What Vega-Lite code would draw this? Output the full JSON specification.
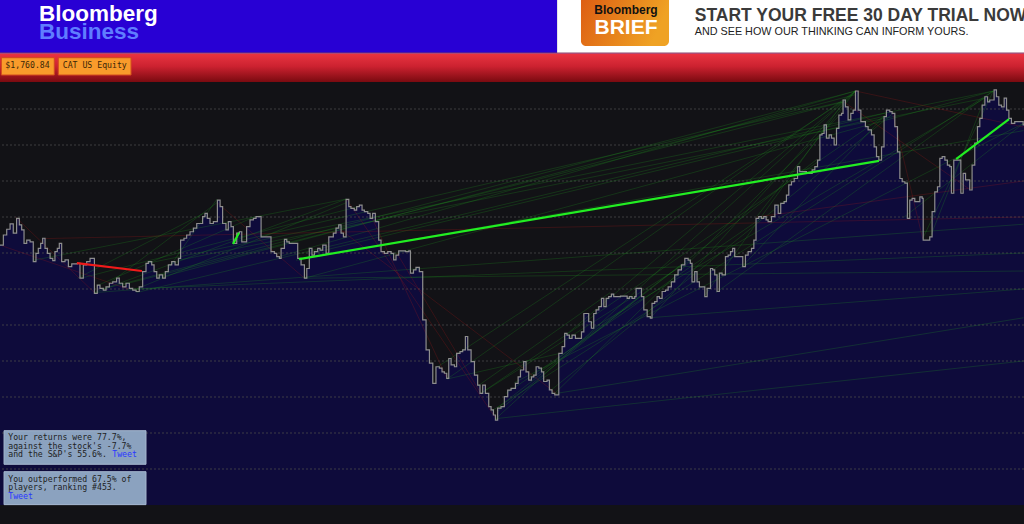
{
"$schema": "https://vega.github.io/schema/vega-lite/v6.json",
"width": 1024, "height": 505,
"autosize": {"type": "none"},
"padding": {"left": 0, "top": 0, "right": 0, "bottom": 19},
"background": "#121216",
"config": {"view": {"stroke": null}},
"datasets": {
"price": [
{"t":2006.238,"p":72.2},{"t":2006.258,"p":75.0},{"t":2006.278,"p":76.6},{"t":2006.298,"p":78.1},{"t":2006.317,"p":75.5},{"t":2006.337,"p":79.6},{"t":2006.353,"p":77.8},{"t":2006.367,"p":76.4},{"t":2006.381,"p":72.7},{"t":2006.397,"p":73.6},{"t":2006.417,"p":73.1},{"t":2006.436,"p":67.6},{"t":2006.452,"p":69.9},{"t":2006.466,"p":71.3},{"t":2006.480,"p":72.7},{"t":2006.492,"p":74.1},{"t":2006.506,"p":71.3},{"t":2006.520,"p":69.9},{"t":2006.536,"p":68.5},{"t":2006.552,"p":67.9},{"t":2006.565,"p":70.4},{"t":2006.579,"p":71.3},{"t":2006.591,"p":72.7},{"t":2006.605,"p":67.6},{"t":2006.625,"p":68.1},{"t":2006.645,"p":66.2},{"t":2006.665,"p":67.0},{"t":2006.698,"p":67.1},{"t":2006.714,"p":63.0},{"t":2006.734,"p":66.7},{"t":2006.754,"p":67.6},{"t":2006.774,"p":68.5},{"t":2006.800,"p":58.8},{"t":2006.817,"p":61.1},{"t":2006.833,"p":60.2},{"t":2006.853,"p":59.7},{"t":2006.869,"p":60.6},{"t":2006.889,"p":61.6},{"t":2006.909,"p":62.0},{"t":2006.932,"p":63.0},{"t":2006.948,"p":61.6},{"t":2006.968,"p":60.6},{"t":2006.988,"p":61.6},{"t":2007.008,"p":60.2},{"t":2007.028,"p":59.7},{"t":2007.048,"p":59.3},{"t":2007.067,"p":60.6},{"t":2007.087,"p":64.8},{"t":2007.107,"p":67.1},{"t":2007.121,"p":67.6},{"t":2007.141,"p":66.7},{"t":2007.155,"p":64.8},{"t":2007.171,"p":63.0},{"t":2007.186,"p":63.9},{"t":2007.206,"p":63.0},{"t":2007.222,"p":64.8},{"t":2007.240,"p":66.7},{"t":2007.260,"p":67.6},{"t":2007.280,"p":66.7},{"t":2007.300,"p":68.5},{"t":2007.313,"p":73.6},{"t":2007.333,"p":74.1},{"t":2007.349,"p":75.0},{"t":2007.369,"p":75.9},{"t":2007.389,"p":76.9},{"t":2007.409,"p":78.2},{"t":2007.444,"p":80.1},{"t":2007.458,"p":81.0},{"t":2007.472,"p":79.6},{"t":2007.488,"p":78.2},{"t":2007.508,"p":78.7},{"t":2007.532,"p":84.7},{"t":2007.548,"p":82.9},{"t":2007.563,"p":78.2},{"t":2007.583,"p":76.4},{"t":2007.597,"p":78.7},{"t":2007.613,"p":77.3},{"t":2007.627,"p":72.7},{"t":2007.647,"p":75.5},{"t":2007.663,"p":75.9},{"t":2007.677,"p":73.1},{"t":2007.706,"p":77.3},{"t":2007.726,"p":79.2},{"t":2007.746,"p":79.6},
{"t":2007.762,"p":80.1},{"t":2007.792,"p":74.5},{"t":2007.851,"p":70.4},{"t":2007.871,"p":69.9},{"t":2007.885,"p":69.0},{"t":2007.901,"p":68.5},{"t":2007.911,"p":71.3},{"t":2007.931,"p":73.8},{"t":2007.945,"p":73.1},{"t":2007.960,"p":72.7},{"t":2008.010,"p":68.5},{"t":2008.030,"p":66.7},{"t":2008.050,"p":63.0},{"t":2008.064,"p":65.7},{"t":2008.079,"p":71.3},{"t":2008.095,"p":69.4},{"t":2008.109,"p":70.4},{"t":2008.129,"p":71.3},{"t":2008.143,"p":70.8},{"t":2008.159,"p":72.2},{"t":2008.179,"p":69.9},{"t":2008.195,"p":74.5},{"t":2008.222,"p":75.5},{"t":2008.238,"p":76.9},{"t":2008.254,"p":77.8},{"t":2008.268,"p":75.5},{"t":2008.282,"p":74.5},{"t":2008.298,"p":84.9},{"t":2008.314,"p":82.9},{"t":2008.327,"p":82.4},{"t":2008.347,"p":81.9},{"t":2008.361,"p":82.9},{"t":2008.377,"p":83.3},{"t":2008.393,"p":81.9},{"t":2008.407,"p":81.5},{"t":2008.427,"p":81.0},{"t":2008.441,"p":79.6},{"t":2008.456,"p":81.0},{"t":2008.472,"p":78.7},{"t":2008.492,"p":73.6},{"t":2008.506,"p":70.4},{"t":2008.526,"p":69.9},{"t":2008.546,"p":70.4},{"t":2008.566,"p":69.9},{"t":2008.581,"p":68.1},{"t":2008.595,"p":69.4},{"t":2008.611,"p":70.6},{"t":2008.651,"p":70.4},{"t":2008.671,"p":70.6},{"t":2008.681,"p":64.4},{"t":2008.699,"p":65.3},{"t":2008.714,"p":66.0},{"t":2008.734,"p":64.8},{"t":2008.754,"p":51.4},{"t":2008.774,"p":43.1},{"t":2008.794,"p":39.4},{"t":2008.814,"p":33.8},{"t":2008.833,"p":38.4},{"t":2008.853,"p":38.0},{"t":2008.869,"p":37.0},{"t":2008.883,"p":36.6},{"t":2008.897,"p":35.2},{"t":2008.909,"p":40.7},{"t":2008.923,"p":38.9},{"t":2008.943,"p":38.4},{"t":2008.956,"p":42.1},{"t":2008.976,"p":42.6},{"t":2008.992,"p":43.1},{"t":2009.008,"p":46.8},{"t":2009.022,"p":43.1},{"t":2009.042,"p":39.8},{"t":2009.062,"p":36.1},{"t":2009.081,"p":33.3},{"t":2009.095,"p":31.0},{"t":2009.111,"p":33.3},{"t":2009.127,"p":31.0},{"t":2009.147,"p":27.3},{"t":2009.161,"p":26.4},{"t":2009.175,"p":25.0},{"t":2009.187,"p":23.6},{"t":2009.200,"p":26.9},{"t":2009.220,"p":27.3},{"t":2009.240,"p":30.1},{"t":2009.260,"p":31.9},{"t":2009.280,"p":32.4},
{"t":2009.286,"p":32.4},{"t":2009.306,"p":33.8},{"t":2009.322,"p":35.6},{"t":2009.336,"p":37.5},{"t":2009.355,"p":39.8},{"t":2009.369,"p":37.0},{"t":2009.385,"p":34.7},{"t":2009.401,"p":35.6},{"t":2009.415,"p":36.1},{"t":2009.429,"p":38.4},{"t":2009.445,"p":38.0},{"t":2009.461,"p":37.0},{"t":2009.474,"p":34.3},{"t":2009.494,"p":34.7},{"t":2009.508,"p":32.0},{"t":2009.524,"p":31.0},{"t":2009.540,"p":30.6},{"t":2009.564,"p":42.1},{"t":2009.584,"p":44.0},{"t":2009.599,"p":47.7},{"t":2009.613,"p":47.2},{"t":2009.627,"p":46.3},{"t":2009.643,"p":47.2},{"t":2009.663,"p":46.3},{"t":2009.699,"p":48.1},{"t":2009.713,"p":53.2},{"t":2009.742,"p":50.9},{"t":2009.758,"p":49.1},{"t":2009.772,"p":53.2},{"t":2009.786,"p":54.2},{"t":2009.802,"p":55.1},{"t":2009.818,"p":57.4},{"t":2009.832,"p":55.1},{"t":2009.846,"p":57.4},{"t":2009.861,"p":57.9},{"t":2009.877,"p":58.6},{"t":2009.891,"p":57.9},{"t":2009.931,"p":58.0},{"t":2009.971,"p":57.4},{"t":2009.984,"p":57.9},{"t":2010.000,"p":57.4},{"t":2010.016,"p":57.9},{"t":2010.024,"p":60.2},{"t":2010.056,"p":57.9},{"t":2010.070,"p":54.2},{"t":2010.090,"p":52.3},{"t":2010.109,"p":51.9},{"t":2010.119,"p":56.0},{"t":2010.135,"p":56.5},{"t":2010.149,"p":57.9},{"t":2010.163,"p":57.4},{"t":2010.179,"p":59.3},{"t":2010.199,"p":59.7},{"t":2010.215,"p":60.6},{"t":2010.234,"p":62.0},{"t":2010.254,"p":63.9},{"t":2010.274,"p":65.3},{"t":2010.294,"p":66.7},{"t":2010.314,"p":68.5},{"t":2010.334,"p":68.0},{"t":2010.347,"p":67.1},{"t":2010.357,"p":62.0},{"t":2010.373,"p":64.8},{"t":2010.387,"p":62.0},{"t":2010.401,"p":60.6},{"t":2010.433,"p":57.9},{"t":2010.447,"p":60.2},{"t":2010.467,"p":65.7},{"t":2010.480,"p":65.3},{"t":2010.492,"p":63.9},{"t":2010.506,"p":59.3},{"t":2010.520,"p":64.4},{"t":2010.536,"p":63.9},{"t":2010.556,"p":69.0},{"t":2010.572,"p":69.4},{"t":2010.586,"p":70.4},{"t":2010.599,"p":71.3},{"t":2010.611,"p":69.0},{"t":2010.659,"p":66.2},{"t":2010.675,"p":69.4},{"t":2010.691,"p":70.4},{"t":2010.711,"p":71.3},{"t":2010.725,"p":73.6},{"t":2010.738,"p":79.6},{"t":2010.754,"p":80.1},{"t":2010.770,"p":79.6},{"t":2010.784,"p":80.1},{"t":2010.798,"p":79.2},
{"t":2010.810,"p":78.7},{"t":2010.830,"p":80.1},{"t":2010.850,"p":83.3},{"t":2010.870,"p":81.0},{"t":2010.885,"p":83.8},{"t":2010.905,"p":84.3},{"t":2010.919,"p":86.1},{"t":2010.933,"p":88.9},{"t":2010.949,"p":89.8},{"t":2010.965,"p":90.7},{"t":2010.985,"p":94.0},{"t":2010.998,"p":92.6},{"t":2011.038,"p":92.1},{"t":2011.072,"p":93.1},{"t":2011.088,"p":94.0},{"t":2011.104,"p":95.8},{"t":2011.118,"p":102.8},{"t":2011.131,"p":103.2},{"t":2011.143,"p":105.6},{"t":2011.157,"p":101.9},{"t":2011.173,"p":102.8},{"t":2011.187,"p":101.9},{"t":2011.203,"p":100.0},{"t":2011.217,"p":104.6},{"t":2011.231,"p":108.3},{"t":2011.247,"p":108.8},{"t":2011.256,"p":112.5},{"t":2011.270,"p":110.6},{"t":2011.286,"p":107.0},{"t":2011.302,"p":108.8},{"t":2011.316,"p":109.7},{"t":2011.330,"p":115.0},{"t":2011.346,"p":109.7},{"t":2011.362,"p":106.5},{"t":2011.389,"p":105.1},{"t":2011.405,"p":104.2},{"t":2011.425,"p":102.8},{"t":2011.441,"p":99.5},{"t":2011.455,"p":96.8},{"t":2011.469,"p":95.8},{"t":2011.485,"p":99.5},{"t":2011.500,"p":107.9},{"t":2011.514,"p":109.7},{"t":2011.534,"p":109.3},{"t":2011.548,"p":108.8},{"t":2011.564,"p":105.1},{"t":2011.580,"p":98.1},{"t":2011.594,"p":90.7},{"t":2011.608,"p":89.8},{"t":2011.624,"p":89.4},{"t":2011.639,"p":79.6},{"t":2011.653,"p":84.7},{"t":2011.667,"p":85.2},{"t":2011.683,"p":84.3},{"t":2011.713,"p":85.6},{"t":2011.727,"p":85.2},{"t":2011.733,"p":73.6},{"t":2011.772,"p":74.5},{"t":2011.786,"p":81.5},{"t":2011.802,"p":87.0},{"t":2011.818,"p":88.4},{"t":2011.832,"p":96.3},{"t":2011.846,"p":96.8},{"t":2011.862,"p":95.8},{"t":2011.877,"p":94.4},{"t":2011.891,"p":94.0},{"t":2011.901,"p":86.6},{"t":2011.915,"p":95.8},{"t":2011.957,"p":86.6},{"t":2011.971,"p":92.1},{"t":2011.985,"p":90.3},{"t":2012.010,"p":87.5},{"t":2012.024,"p":94.4},{"t":2012.040,"p":100.5},{"t":2012.056,"p":105.1},{"t":2012.070,"p":107.4},{"t":2012.084,"p":111.1},{"t":2012.100,"p":113.4},{"t":2012.116,"p":112.0},{"t":2012.129,"p":112.5},{"t":2012.155,"p":115.3},{"t":2012.169,"p":113.4},{"t":2012.183,"p":111.1},{"t":2012.199,"p":110.6},{"t":2012.215,"p":113.0},{"t":2012.229,"p":109.7},{"t":2012.243,"p":107.4},{"t":2012.258,"p":106.0},{"t":2012.278,"p":106.5},{"t":2012.314,"p":106.5},{"t":2012.328,"p":105.6},{"t":2012.333,"p":105.6}
],
"others": [
{"t":2006.80,"p":59,"t2":2008.30,"p2":85,"result":"gain"},
{"t":2006.85,"p":60,"t2":2011.33,"p2":115,"result":"gain"},
{"t":2006.95,"p":61,"t2":2011.26,"p2":112,"result":"gain"},
{"t":2007.05,"p":59,"t2":2011.52,"p2":109,"result":"gain"},
{"t":2007.10,"p":67,"t2":2012.15,"p2":115,"result":"gain"},
{"t":2007.17,"p":63,"t2":2011.33,"p2":114,"result":"gain"},
{"t":2007.30,"p":68,"t2":2012.10,"p2":113,"result":"gain"},
{"t":2006.90,"p":62,"t2":2007.53,"p2":84,"result":"gain"},
{"t":2006.82,"p":61,"t2":2007.75,"p2":80,"result":"gain"},
{"t":2007.63,"p":73,"t2":2011.25,"p2":112,"result":"gain"},
{"t":2007.90,"p":69,"t2":2011.33,"p2":115,"result":"gain"},
{"t":2008.05,"p":63,"t2":2012.15,"p2":115,"result":"gain"},
{"t":2008.10,"p":70,"t2":2011.50,"p2":108,"result":"gain"},
{"t":2008.00,"p":68,"t2":2012.33,"p2":104,"result":"gain"},
{"t":2008.90,"p":35,"t2":2011.33,"p2":115,"result":"gain"},
{"t":2008.83,"p":38,"t2":2011.25,"p2":112,"result":"gain"},
{"t":2009.10,"p":31,"t2":2011.50,"p2":108,"result":"gain"},
{"t":2009.19,"p":24,"t2":2011.33,"p2":115,"result":"gain"},
{"t":2009.16,"p":26,"t2":2012.15,"p2":115,"result":"gain"},
{"t":2009.20,"p":27,"t2":2011.10,"p2":96,"result":"gain"},
{"t":2009.25,"p":31,"t2":2010.78,"p2":80,"result":"gain"},
{"t":2009.30,"p":34,"t2":2012.33,"p2":106,"result":"gain"},
{"t":2009.54,"p":31,"t2":2011.23,"p2":108,"result":"gain"},
{"t":2009.52,"p":32,"t2":2011.56,"p2":109,"result":"gain"},
{"t":2009.40,"p":35,"t2":2010.30,"p2":67,"result":"gain"},
{"t":2009.60,"p":47,"t2":2011.33,"p2":115,"result":"gain"},
{"t":2009.76,"p":49,"t2":2012.10,"p2":113,"result":"gain"},
{"t":2010.11,"p":52,"t2":2011.33,"p2":115,"result":"gain"},
{"t":2010.43,"p":58,"t2":2011.26,"p2":112,"result":"gain"},
{"t":2010.50,"p":59,"t2":2012.15,"p2":115,"result":"gain"},
{"t":2010.65,"p":66,"t2":2011.52,"p2":109,"result":"gain"},
{"t":2006.44,"p":68,"t2":2008.30,"p2":85,"result":"gain"},
{"t":2006.72,"p":63,"t2":2008.38,"p2":83,"result":"gain"},
{"t":2007.05,"p":60,"t2":2008.30,"p2":84,"result":"gain"},
{"t":2006.80,"p":59,"t2":2012.33,"p2":78,"result":"gain"},
{"t":2007.00,"p":60,"t2":2012.33,"p2":70,"result":"gain"},
{"t":2008.05,"p":63,"t2":2012.33,"p2":65,"result":"gain"},
{"t":2009.19,"p":24,"t2":2012.33,"p2":40,"result":"gain"},
{"t":2009.55,"p":31,"t2":2012.33,"p2":52,"result":"gain"},
{"t":2010.10,"p":52,"t2":2012.33,"p2":60,"result":"gain"},
{"t":2009.08,"p":33,"t2":2009.87,"p2":59,"result":"gain"},
{"t":2008.90,"p":35,"t2":2009.56,"p2":42,"result":"gain"},
{"t":2007.20,"p":63,"t2":2007.53,"p2":85,"result":"gain"},
{"t":2006.70,"p":63,"t2":2007.45,"p2":81,"result":"gain"},
{"t":2009.20,"p":26,"t2":2010.05,"p2":58,"result":"gain"},
{"t":2009.10,"p":31,"t2":2010.35,"p2":68,"result":"gain"},
{"t":2011.73,"p":74,"t2":2012.15,"p2":115,"result":"gain"},
{"t":2011.78,"p":75,"t2":2012.10,"p2":113,"result":"gain"},
{"t":2011.62,"p":80,"t2":2012.33,"p2":106,"result":"gain"},
{"t":2010.74,"p":80,"t2":2011.33,"p2":115,"result":"gain"},
{"t":2008.30,"p":85,"t2":2009.19,"p2":24,"result":"loss"},
{"t":2008.45,"p":80,"t2":2008.90,"p2":35,"result":"loss"},
{"t":2008.25,"p":77,"t2":2009.55,"p2":31,"result":"loss"},
{"t":2008.60,"p":70,"t2":2009.10,"p2":31,"result":"loss"},
{"t":2011.33,"p":115,"t2":2012.33,"p2":105,"result":"loss"},
{"t":2011.55,"p":109,"t2":2011.73,"p2":74,"result":"loss"},
{"t":2011.26,"p":112,"t2":2012.00,"p2":88,"result":"loss"},
{"t":2006.33,"p":80,"t2":2006.80,"p2":59,"result":"loss"},
{"t":2006.25,"p":72,"t2":2007.00,"p2":60,"result":"loss"},
{"t":2007.53,"p":84,"t2":2008.05,"p2":63,"result":"loss"},
{"t":2006.50,"p":74,"t2":2012.33,"p2":80,"result":"loss"},
{"t":2010.74,"p":80,"t2":2012.33,"p2":90,"result":"loss"}
],
"yours": [
{"t":2006.696,"p":67.2,"t2":2007.083,"p2":65.0,"result":"loss"},
{"t":2007.625,"p":72.5,"t2":2007.661,"p2":75.6,"result":"gain"},
{"t":2008.018,"p":68.3,"t2":2011.470,"p2":95.6,"result":"gain"},
{"t":2011.929,"p":96.1,"t2":2012.244,"p2":107.2,"result":"gain"}
]
},
"resolve": {"scale": {"color": "independent"}},
"layer": [
{"data": {"name": "price"},
 "mark": {"type": "area", "interpolate": "step-after", "color": "#0e0b3b"},
 "encoding": {
  "x": {"field": "t", "type": "quantitative", "scale": {"domain": [2006.238, 2012.333], "nice": false, "zero": false},
        "axis": {"values": [2007, 2008, 2009, 2010, 2011, 2012], "format": "d", "title": null, "grid": false, "domainColor": "#e8e8e8", "tickColor": "#e8e8e8", "tickSize": 3, "labelColor": "#dddddd", "labelFont": "Liberation Serif", "labelFontSize": 8.5, "labelPadding": 1, "labelFlush": false}},
  "y": {"field": "p", "type": "quantitative", "scale": {"domain": [0, 140.28], "nice": false, "zero": false}, "axis": null}}},
{"data": {"values": [{"g":10},{"g":20},{"g":30},{"g":40},{"g":50},{"g":60},{"g":70},{"g":80},{"g":90},{"g":100},{"g":110}]},
 "mark": {"type": "rule", "color": "#4a4a4a", "strokeDash": [2, 2], "strokeWidth": 1, "opacity": 0.8},
 "encoding": {"y": {"field": "g", "type": "quantitative", "scale": {"domain": [0, 140.28], "nice": false, "zero": false}, "axis": null}}},
{"data": {"name": "others"},
 "mark": {"type": "rule", "strokeWidth": 0.8, "opacity": 0.3},
 "encoding": {
  "x": {"field": "t", "type": "quantitative", "scale": {"domain": [2006.238, 2012.333], "nice": false, "zero": false}, "axis": null},
  "x2": {"field": "t2"},
  "y": {"field": "p", "type": "quantitative", "scale": {"domain": [0, 140.28], "nice": false, "zero": false}, "axis": null},
  "y2": {"field": "p2"},
  "color": {"field": "result", "type": "nominal", "scale": {"domain": ["gain", "loss"], "range": ["#22a022", "#b01818"]}, "legend": null}}},
{"data": {"name": "price"},
 "mark": {"type": "line", "interpolate": "step-after", "color": "#8e8e8e", "strokeWidth": 1.2},
 "encoding": {
  "x": {"field": "t", "type": "quantitative", "scale": {"domain": [2006.238, 2012.333], "nice": false, "zero": false}, "axis": null},
  "y": {"field": "p", "type": "quantitative", "scale": {"domain": [0, 140.28], "nice": false, "zero": false}, "axis": null}}},
{"data": {"name": "yours"},
 "mark": {"type": "rule", "strokeWidth": 2.2},
 "encoding": {
  "x": {"field": "t", "type": "quantitative", "scale": {"domain": [2006.238, 2012.333], "nice": false, "zero": false}, "axis": null},
  "x2": {"field": "t2"},
  "y": {"field": "p", "type": "quantitative", "scale": {"domain": [0, 140.28], "nice": false, "zero": false}, "axis": null},
  "y2": {"field": "p2"},
  "color": {"field": "result", "type": "nominal", "scale": {"domain": ["gain", "loss"], "range": ["#22ee22", "#f01a1a"]}, "legend": null}}},
{"data": {"values": [{"t":2006.262,"t2":2007.107,"p":20.64,"p2":11.31},{"t":2006.262,"t2":2007.107,"p":9.25,"p2":0.1}]},
 "mark": {"type": "rect", "fill": "#8ba2bf", "stroke": "#a6b8cf", "strokeWidth": 1},
 "encoding": {
  "x": {"field": "t", "type": "quantitative", "scale": {"domain": [2006.238, 2012.333], "nice": false, "zero": false}, "axis": null},
  "x2": {"field": "t2"},
  "y": {"field": "p", "type": "quantitative", "scale": {"domain": [0, 140.28], "nice": false, "zero": false}, "axis": null},
  "y2": {"field": "p2"}}},
{"data": {"values": [
  {"t":2006.287,"p":18.53,"text":"Your returns were 77.7%,"},
  {"t":2006.287,"p":16.19,"text":"against the stock's -7.7%"},
  {"t":2006.287,"p":13.89,"text":"and the S&P's 55.6%."},
  {"t":2006.287,"p":6.94,"text":"You outperformed 67.5% of"},
  {"t":2006.287,"p":4.64,"text":"players, ranking #453."}]},
 "mark": {"type": "text", "align": "left", "baseline": "middle", "font": "DejaVu Sans Mono", "fontSize": 8.2, "color": "#1e1e1e"},
 "encoding": {
  "x": {"field": "t", "type": "quantitative", "scale": {"domain": [2006.238, 2012.333], "nice": false, "zero": false}, "axis": null},
  "y": {"field": "p", "type": "quantitative", "scale": {"domain": [0, 140.28], "nice": false, "zero": false}, "axis": null},
  "text": {"field": "text"}}},
{"data": {"values": [
  {"t":2006.906,"p":13.89,"text":"Tweet"},
  {"t":2006.287,"p":2.31,"text":"Tweet"}]},
 "mark": {"type": "text", "align": "left", "baseline": "middle", "font": "DejaVu Sans Mono", "fontSize": 8.2, "color": "#2a36ff"},
 "encoding": {
  "x": {"field": "t", "type": "quantitative", "scale": {"domain": [2006.238, 2012.333], "nice": false, "zero": false}, "axis": null},
  "y": {"field": "p", "type": "quantitative", "scale": {"domain": [0, 140.28], "nice": false, "zero": false}, "axis": null},
  "text": {"field": "text"}}},
{"data": {"values": [{"t":2006.238,"t2":2012.333,"p":117.5,"p2":125.4}]},
 "mark": {"type": "rect", "fill": {"gradient": "linear", "x1": 0, "y1": 0, "x2": 0, "y2": 1, "stops": [{"offset": 0, "color": "#ea3441"}, {"offset": 0.45, "color": "#cc2230"}, {"offset": 1, "color": "#7a0a10"}]}},
 "encoding": {
  "x": {"field": "t", "type": "quantitative", "scale": {"domain": [2006.238, 2012.333], "nice": false, "zero": false}, "axis": null},
  "x2": {"field": "t2"},
  "y": {"field": "p", "type": "quantitative", "scale": {"domain": [0, 140.28], "nice": false, "zero": false}, "axis": null},
  "y2": {"field": "p2"}}},
{"data": {"values": [{"t":2006.238,"t2":2009.554,"p":125.6,"p2":140.28}]},
 "mark": {"type": "rect", "fill": "#2800d4"},
 "encoding": {
  "x": {"field": "t", "type": "quantitative", "scale": {"domain": [2006.238, 2012.333], "nice": false, "zero": false}, "axis": null},
  "x2": {"field": "t2"},
  "y": {"field": "p", "type": "quantitative", "scale": {"domain": [0, 140.28], "nice": false, "zero": false}, "axis": null},
  "y2": {"field": "p2"}}},
{"data": {"values": [{"t":2009.554,"t2":2012.333,"p":125.6,"p2":140.28}]},
 "mark": {"type": "rect", "fill": "#ffffff"},
 "encoding": {
  "x": {"field": "t", "type": "quantitative", "scale": {"domain": [2006.238, 2012.333], "nice": false, "zero": false}, "axis": null},
  "x2": {"field": "t2"},
  "y": {"field": "p", "type": "quantitative", "scale": {"domain": [0, 140.28], "nice": false, "zero": false}, "axis": null},
  "y2": {"field": "p2"}}},
{"data": {"values": [{"p":125.5}]},
 "mark": {"type": "rule", "color": "#c8588e", "strokeWidth": 1},
 "encoding": {"y": {"field": "p", "type": "quantitative", "scale": {"domain": [0, 140.28], "nice": false, "zero": false}, "axis": null}}},
{"data": {"values": [{"t":2009.696,"t2":2010.220,"p":127.5,"p2":143}]},
 "mark": {"type": "rect", "cornerRadius": 5, "clip": true, "fill": {"gradient": "linear", "x1": 0, "y1": 0, "x2": 1, "y2": 0.3, "stops": [{"offset": 0, "color": "#dc5a12"}, {"offset": 1, "color": "#efa224"}]}},
 "encoding": {
  "x": {"field": "t", "type": "quantitative", "scale": {"domain": [2006.238, 2012.333], "nice": false, "zero": false}, "axis": null},
  "x2": {"field": "t2"},
  "y": {"field": "p", "type": "quantitative", "scale": {"domain": [0, 140.28], "nice": false, "zero": false}, "axis": null},
  "y2": {"field": "p2"}}},
{"data": {"values": [{"t":2006.246,"t2":2006.561,"p":119.44,"p2":124.25},{"t":2006.585,"t2":2007.018,"p":119.44,"p2":124.25}]},
 "mark": {"type": "rect", "fill": "#f99b2b", "stroke": "#d24a1e", "strokeWidth": 1},
 "encoding": {
  "x": {"field": "t", "type": "quantitative", "scale": {"domain": [2006.238, 2012.333], "nice": false, "zero": false}, "axis": null},
  "x2": {"field": "t2"},
  "y": {"field": "p", "type": "quantitative", "scale": {"domain": [0, 140.28], "nice": false, "zero": false}, "axis": null},
  "y2": {"field": "p2"}}},
{"data": {"values": [{"t":2006.402,"p":121.9,"text":"$1,760.84"},{"t":2006.802,"p":121.9,"text":"CAT US Equity"}]},
 "mark": {"type": "text", "align": "center", "baseline": "middle", "font": "DejaVu Sans Mono", "fontSize": 8.2, "color": "#3b2608"},
 "encoding": {
  "x": {"field": "t", "type": "quantitative", "scale": {"domain": [2006.238, 2012.333], "nice": false, "zero": false}, "axis": null},
  "y": {"field": "p", "type": "quantitative", "scale": {"domain": [0, 140.28], "nice": false, "zero": false}, "axis": null},
  "text": {"field": "text"}}},
{"data": {"values": [{"t":2006.470,"p":134.53,"text":"Bloomberg"}]},
 "mark": {"type": "text", "align": "left", "baseline": "alphabetic", "font": "Liberation Sans", "fontWeight": "bold", "fontSize": 22.5, "color": "#ffffff"},
 "encoding": {
  "x": {"field": "t", "type": "quantitative", "scale": {"domain": [2006.238, 2012.333], "nice": false, "zero": false}, "axis": null},
  "y": {"field": "p", "type": "quantitative", "scale": {"domain": [0, 140.28], "nice": false, "zero": false}, "axis": null},
  "text": {"field": "text"}}},
{"data": {"values": [{"t":2006.470,"p":129.36,"text":"Business"}]},
 "mark": {"type": "text", "align": "left", "baseline": "alphabetic", "font": "Liberation Sans", "fontWeight": "bold", "fontSize": 22.5, "color": "#5f7dff"},
 "encoding": {
  "x": {"field": "t", "type": "quantitative", "scale": {"domain": [2006.238, 2012.333], "nice": false, "zero": false}, "axis": null},
  "y": {"field": "p", "type": "quantitative", "scale": {"domain": [0, 140.28], "nice": false, "zero": false}, "axis": null},
  "text": {"field": "text"}}},
{"data": {"values": [{"t":2009.964,"p":136.39,"text":"Bloomberg"}]},
 "mark": {"type": "text", "align": "center", "baseline": "alphabetic", "font": "Liberation Sans", "fontWeight": "bold", "fontSize": 12, "color": "#111111"},
 "encoding": {
  "x": {"field": "t", "type": "quantitative", "scale": {"domain": [2006.238, 2012.333], "nice": false, "zero": false}, "axis": null},
  "y": {"field": "p", "type": "quantitative", "scale": {"domain": [0, 140.28], "nice": false, "zero": false}, "axis": null},
  "text": {"field": "text"}}},
{"data": {"values": [{"t":2009.964,"p":130.75,"text":"BRIEF"}]},
 "mark": {"type": "text", "align": "center", "baseline": "alphabetic", "font": "Liberation Sans", "fontWeight": "bold", "fontSize": 21, "color": "#ffffff"},
 "encoding": {
  "x": {"field": "t", "type": "quantitative", "scale": {"domain": [2006.238, 2012.333], "nice": false, "zero": false}, "axis": null},
  "y": {"field": "p", "type": "quantitative", "scale": {"domain": [0, 140.28], "nice": false, "zero": false}, "axis": null},
  "text": {"field": "text"}}},
{"data": {"values": [{"t":2010.373,"p":134.53,"text":"START YOUR FREE 30 DAY TRIAL NOW"}]},
 "mark": {"type": "text", "align": "left", "baseline": "alphabetic", "font": "Liberation Sans", "fontWeight": "bold", "fontSize": 17.5, "color": "#3a3a3a"},
 "encoding": {
  "x": {"field": "t", "type": "quantitative", "scale": {"domain": [2006.238, 2012.333], "nice": false, "zero": false}, "axis": null},
  "y": {"field": "p", "type": "quantitative", "scale": {"domain": [0, 140.28], "nice": false, "zero": false}, "axis": null},
  "text": {"field": "text"}}},
{"data": {"values": [{"t":2010.373,"p":130.56,"text":"AND SEE HOW OUR THINKING CAN INFORM YOURS."}]},
 "mark": {"type": "text", "align": "left", "baseline": "alphabetic", "font": "Liberation Sans", "fontSize": 10.8, "color": "#222222"},
 "encoding": {
  "x": {"field": "t", "type": "quantitative", "scale": {"domain": [2006.238, 2012.333], "nice": false, "zero": false}, "axis": null},
  "y": {"field": "p", "type": "quantitative", "scale": {"domain": [0, 140.28], "nice": false, "zero": false}, "axis": null},
  "text": {"field": "text"}}}
]
}
